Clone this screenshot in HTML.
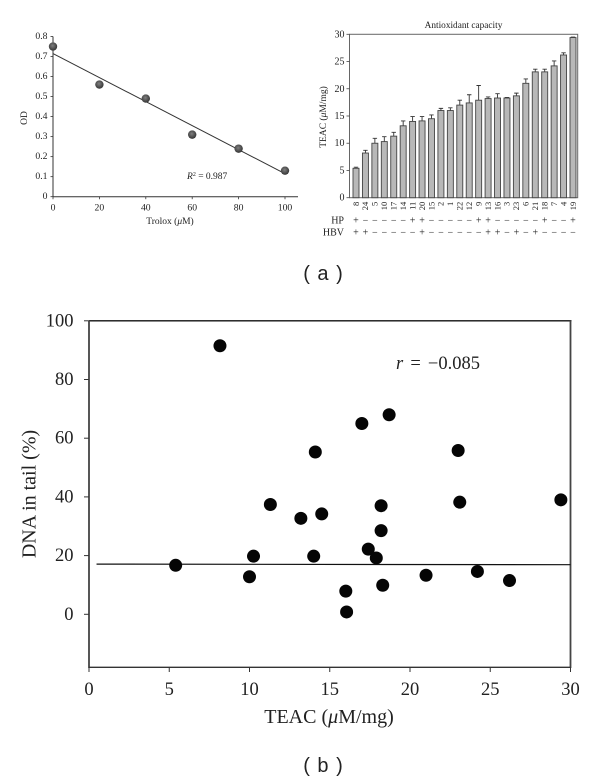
<!DOCTYPE html>
<html lang="en">
<head>
<meta charset="utf-8">
<title>Antioxidant capacity figure</title>
<style>
html,body{margin:0;padding:0;background:#fff;width:600px;height:781px;overflow:hidden}
svg{display:block;filter:blur(0.3px)}
text{font-family:"Liberation Serif",serif;fill:#222}
text.sans{font-family:"Liberation Sans",sans-serif;word-spacing:2px}
</style>
</head>
<body>
<svg id="fig" xmlns="http://www.w3.org/2000/svg" width="600" height="781" viewBox="0 0 600 781">
  <rect width="600" height="781" fill="#fff"/>
  <g id="a1">
    <text x="25" y="118" font-size="9.5" text-anchor="middle" transform="rotate(-90 25 118)" dominant-baseline="middle">OD</text>
    <text x="170" y="224" font-size="9.5" text-anchor="middle">Trolox (<tspan font-style="italic">μ</tspan>M)</text>
    <text x="187" y="179" font-size="9.5"><tspan font-style="italic">R</tspan><tspan font-size="6" dy="-3">2</tspan><tspan dy="3"> = 0.987</tspan></text>
  </g>
  <g id="a2">
    <text x="463.5" y="28" font-size="9.3" text-anchor="middle">Antioxidant capacity</text>
    <text x="324" y="117" font-size="9.5" text-anchor="middle" dominant-baseline="middle" transform="rotate(-90 324 117)">TEAC (<tspan font-style="italic">μ</tspan>M/mg)</text>
    <text x="344" y="223.5" font-size="10" text-anchor="end">HP</text>
    <text x="344" y="235.5" font-size="10" text-anchor="end">HBV</text>
  </g>
  <text x="323" y="280" font-size="20" text-anchor="middle" class="sans">( a )</text>
  <g id="b">
    <text x="31" y="494" font-size="20" text-anchor="middle" dominant-baseline="middle" transform="rotate(-90 31 494)">DNA in tail (%)</text>
    <text x="329" y="723" font-size="20" text-anchor="middle">TEAC (<tspan font-style="italic">μ</tspan>M/mg)</text>
    <text x="396" y="369" font-size="18.5" word-spacing="2.5"><tspan font-style="italic">r</tspan> = −0.085</text>
  </g>
  <text x="323" y="772" font-size="20" text-anchor="middle" class="sans">( b )</text>
</svg>
<script>
// Panel a, standard curve
const troloxDoses = [0, 20, 40, 60, 80, 100];
const odValues = [0.75, 0.56, 0.49, 0.31, 0.24, 0.13];
const odFitStart = [0, 0.715];
const odFitEnd = [100, 0.115];
const odTicks = ['0', '0.1', '0.2', '0.3', '0.4', '0.5', '0.6', '0.7', '0.8'];
const troloxTicks = ['0', '20', '40', '60', '80', '100'];

// Panel a, bar chart
const sampleIds = ['8','24','5','10','17','14','11','20','15','2','1','22','12','9','13','16','3','23','6','21','18','7','4','19'];
const teacValues = [5.4,8.2,10,10.3,11.3,13.2,14,14.1,14.5,16,16,17,17.4,17.9,18.2,18.3,18.3,18.7,21,23.1,23.1,24.2,26.2,29.4];
const teacErrors = [0.2,0.5,0.9,0.9,0.7,0.9,0.9,0.8,0.7,0.4,0.5,0.9,1.5,2.7,0.3,0.8,0.1,0.5,0.8,0.5,0.5,0.9,0.4,0.1];
const hpStatus = ['+','−','−','−','−','−','+','+','−','−','−','−','−','+','+','−','−','−','−','−','+','−','−','+'];
const hbvStatus = ['+','+','−','−','−','−','−','+','−','−','−','−','−','−','+','+','−','+','−','+','−','−','−','−'];
const teacTicks = ['0', '5', '10', '15', '20', '25', '30'];

// Panel b, scatter
const scatterTeac = [8.16,5.4,10,10.25,11.3,13.2,14,14.1,14.5,16,16.05,17,17.4,17.9,18.2,18.2,18.3,18.7,21,23,23.1,24.2,26.2,29.4];
const scatterDna = [91.5,16.7,12.8,19.8,37.4,32.7,19.8,55.3,34.2,7.9,0.8,65,22.2,19.2,28.5,37,9.9,68,13.3,55.8,38.2,14.6,11.5,39];
const scatterFitStart = [0.47, 17.1];
const scatterFitEnd = [30, 16.9];
const scatterXTicks = ['0', '5', '10', '15', '20', '25', '30'];
const scatterYTicks = ['0', '20', '40', '60', '80', '100'];

const NS = 'http://www.w3.org/2000/svg';
function make(parent, tag, attrs, txt) {
  const e = document.createElementNS(NS, tag);
  for (const k in attrs) e.setAttribute(k, attrs[k]);
  if (txt !== undefined) e.textContent = txt;
  parent.appendChild(e);
  return e;
}

// Axis functions
const xA = v => 53 + v * 2.32;
const yA = v => 196.7 - v * 200.25;
const yB = v => 197.7 - v * 5.447;
const xB = i => 356 + i * 9.435;
const xC = v => 89 + v * 16.05;
const yC = v => 614.3 - v * 2.935;

/* ---------- standard curve ---------- */
const a1 = document.getElementById('a1');
const defs = make(document.getElementById('fig'), 'defs', {});
const grad = make(defs, 'radialGradient', {id:'ball', cx:'0.45', cy:'0.4', r:'0.6'});
make(grad, 'stop', {offset:'0', 'stop-color':'#808080'});
make(grad, 'stop', {offset:'1', 'stop-color':'#333'});

let el = make(a1, 'line', {x1:xA(0), y1:yA(0), x2:xA(100) + 13, y2:yA(0), stroke:'#333', 'stroke-width':1});


el = make(a1, 'line', {x1:xA(0), y1:yA(0), x2:xA(0), y2:yA(0.8), stroke:'#333', 'stroke-width':1});



odTicks.forEach(t => {
  const y = yA(parseFloat(t));
  const tick = make(a1, 'line', {x1:xA(0) - 2.5, y1:y, x2:xA(0), y2:y, stroke:'#333', 'stroke-width':0.8});
  
  
  const lab = make(a1, 'text', {x:xA(0) - 5.5, y:y + 2.5, 'font-size':9.7, 'text-anchor':'end'}, t);
  
  
});
troloxTicks.forEach(t => {
  const x = xA(parseFloat(t));
  const tick = make(a1, 'line', {x1:x, y1:yA(0), x2:x, y2:yA(0) + 2.5, stroke:'#333', 'stroke-width':0.8});
  
  
  const lab = make(a1, 'text', {x:x, y:210.5, 'font-size':9.7, 'text-anchor':'middle'}, t);
  
  
});
el = make(a1, 'line', {x1:xA(odFitStart[0]), y1:yA(odFitStart[1]), x2:xA(odFitEnd[0]), y2:yA(odFitEnd[1]), stroke:'#333', 'stroke-width':1});


troloxDoses.forEach((d, i) => {
  const c = make(a1, 'circle', {cx:xA(d), cy:yA(odValues[i]), r:4.2, fill:'url(#ball)'});
  
  
});

/* ---------- bar chart ---------- */
const a2 = document.getElementById('a2');
el = make(a2, 'rect', {x:349.5, y:yB(30), width:228.2, height:yB(0) - yB(30), fill:'none', stroke:'#666', 'stroke-width':1});


teacTicks.forEach(t => {
  const y = yB(parseFloat(t));
  const tick = make(a2, 'line', {x1:346.5, y1:y, x2:349.5, y2:y, stroke:'#444', 'stroke-width':0.8});
  
  
  const lab = make(a2, 'text', {x:344.5, y:y + 3, 'font-size':10, 'text-anchor':'end'}, t);
  
  
});
sampleIds.forEach((id, i) => {
  const x = xB(i);
  const v = teacValues[i];
  const top = yB(v + teacErrors[i]);
  const err = make(a2, 'path', {d:`M${x} ${yB(v)}V${top}M${x - 2.2} ${top}H${x + 2.2}`, stroke:'#333', 'stroke-width':0.9, fill:'none'});
  
  
  const bar = make(a2, 'rect', {x:x - 3, y:yB(v), width:6, height:yB(0) - yB(v), fill:'#b8b8b8', stroke:'#444', 'stroke-width':0.9});
  
  
  const lab = make(a2, 'text', {x:x + 2.8, y:201.7, 'font-size':8.5, 'text-anchor':'end', transform:`rotate(-90 ${x + 2.8} 201.7)`}, id);
  
  
  const hp = make(a2, 'text', {x:x, y:223.5, 'font-size':10, 'text-anchor':'middle'}, hpStatus[i]);
  
  
  const hbv = make(a2, 'text', {x:x, y:235.5, 'font-size':10, 'text-anchor':'middle'}, hbvStatus[i]);
  
  
});

/* ---------- scatter ---------- */
const b = document.getElementById('b');
el = make(b, 'line', {x1:xC(0), y1:yC(100), x2:xC(30) + 1, y2:yC(100), stroke:'#111', 'stroke-width':1.3});


el = make(b, 'line', {x1:xC(0), y1:yC(100), x2:xC(0), y2:668, stroke:'#444', 'stroke-width':1.8});


el = make(b, 'line', {x1:xC(30), y1:yC(100), x2:xC(30), y2:668, stroke:'#444', 'stroke-width':1.8});


el = make(b, 'line', {x1:xC(0), y1:667.3, x2:xC(30), y2:667.3, stroke:'#333', 'stroke-width':1.4});


scatterYTicks.forEach(t => {
  const y = yC(parseFloat(t));
  const tick = make(b, 'line', {x1:xC(0) - 5, y1:y, x2:xC(0), y2:y, stroke:'#333', 'stroke-width':1});
  
  
  const lab = make(b, 'text', {x:73.5, y:y + 5.5, 'font-size':18.5, 'text-anchor':'end'}, t);
  
  
});
scatterXTicks.forEach(t => {
  const x = xC(parseFloat(t));
  const tick = make(b, 'line', {x1:x, y1:667.3, x2:x, y2:672, stroke:'#333', 'stroke-width':1});
  
  
  const lab = make(b, 'text', {x:x, y:695, 'font-size':18.5, 'text-anchor':'middle'}, t);
  
  
});
el = make(b, 'line', {x1:xC(scatterFitStart[0]), y1:yC(scatterFitStart[1]), x2:xC(scatterFitEnd[0]), y2:yC(scatterFitEnd[1]), stroke:'#111', 'stroke-width':1.2});


scatterTeac.forEach((v, i) => {
  const c = make(b, 'circle', {cx:xC(v), cy:yC(scatterDna[i]), r:6.5, fill:'#050505'});
  
  
});
</script>
</body>
</html>
